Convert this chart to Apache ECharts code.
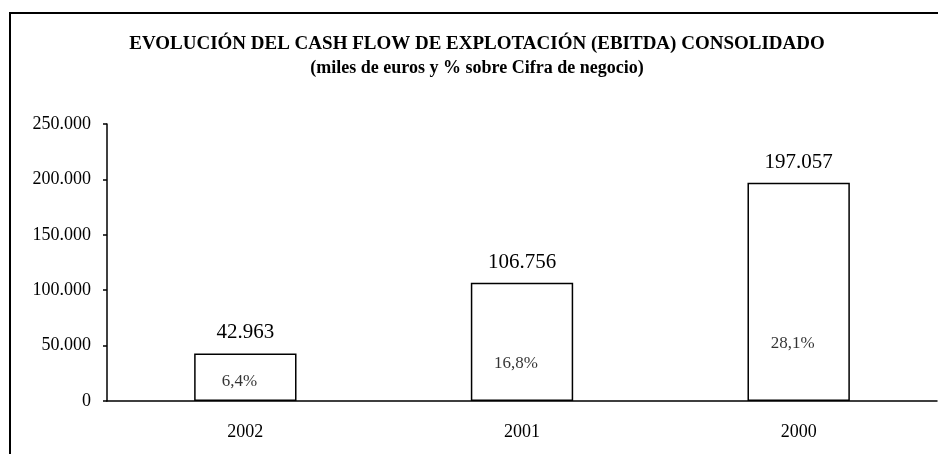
<!DOCTYPE html>
<html>
<head>
<meta charset="utf-8">
<script src="https://cdn.jsdelivr.net/npm/echarts@6/dist/echarts.min.js"></script>
<style>
  html, body { margin: 0; padding: 0; background: #fff; }
  #chart { width: 938px; height: 454px; }
</style>
</head>
<body>
<div id="chart"></div>
<script>
// datos del grafico
var years = ['2002', '2001', '2000'];
var ebitda = [42963, 106756, 197057];
var pctNegocio = [6.4, 16.8, 28.1];
var yTicks = [0, 50000, 100000, 150000, 200000, 250000];

var serif = '"Liberation Serif", "Times New Roman", serif';

// 250000 -> 250.000
function fmtMiles(v) {
	return String(v).replace(/\B(?=(\d{3})+(?!\d))/g, '.');
}

var myChart = echarts.init(document.getElementById('chart'));

var option = {
	animation: false,
	backgroundColor: '#fff',
	title: {
		text: 'EVOLUCIÓN DEL CASH FLOW DE EXPLOTACIÓN (EBITDA) CONSOLIDADO',
		subtext: '(miles de euros y % sobre Cifra de negocio)',
		left: 472,
		textAlign: 'center',
		top: 30,
		itemGap: 5,
		textStyle: { fontFamily: serif, fontSize: 19, fontWeight: 'bold', color: '#000' },
		subtextStyle: { fontFamily: serif, fontSize: 18, fontWeight: 'bold', color: '#000' }
	},
	// marco exterior
	graphic: [{
		type: 'rect',
		shape: { x: 10, y: 13, width: 1000, height: 1000 },
		style: { fill: 'none', stroke: '#000', lineWidth: 2 }
	}],
	grid: { left: 107, right: 1, top: 124, bottom: 53 },
	xAxis: {
		type: 'category',
		data: years,
		axisLine: { lineStyle: { color: '#000', width: 1.5 } },
		axisTick: { length: 6, lineStyle: { color: '#000', width: 1.5 } },
		axisLabel: { fontFamily: serif, fontSize: 18, color: '#000', margin: 22 }
	},
	yAxis: [{
		type: 'value',
		min: yTicks[0],
		max: yTicks[yTicks.length - 1],
		interval: yTicks[1] - yTicks[0],
		splitLine: { show: false },
		axisLine: { show: true, lineStyle: { color: '#000', width: 1.5 } },
		axisTick: { show: true, length: 4, lineStyle: { color: '#000', width: 1.5 } },
		axisLabel: {
			fontFamily: serif, fontSize: 18, color: '#000', margin: 16,
			formatter: function (v) { return fmtMiles(v); }
		}
	}, {
		// eje oculto para colocar los porcentajes dentro de las barras
		type: 'value',
		show: false,
		min: -6,
		max: 153
	}],
	series: [{
		name: 'EBITDA',
		type: 'bar',
		data: ebitda,
		barCategoryGap: '63%',
		itemStyle: { color: '#fff', borderColor: '#000', borderWidth: 1.5 },
		label: {
			show: true,
			position: 'top',
			distance: 10,
			fontFamily: serif,
			fontSize: 21,
			color: '#000',
			formatter: function (p) { return fmtMiles(p.value); }
		}
	}, {
		name: '% Cifra de negocio',
		type: 'scatter',
		yAxisIndex: 1,
		data: pctNegocio,
		symbolSize: 0,
		itemStyle: { color: 'rgba(0,0,0,0)' },
		label: {
			show: true,
			position: 'inside',
			offset: [-6, 2],
			fontFamily: serif,
			fontSize: 17,
			color: '#000',
			formatter: function (p) { return String(p.value).replace('.', ',') + '%'; }
		}
	}]
};

myChart.setOption(option);
</script>
</body>
</html>
